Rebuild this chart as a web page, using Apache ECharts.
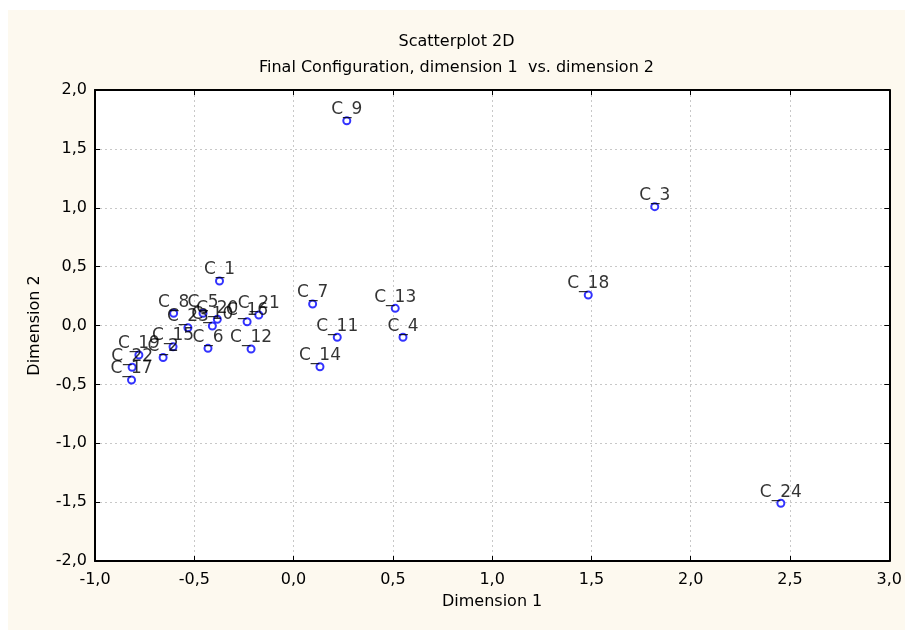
<!DOCTYPE html>
<html>
<head>
<meta charset="utf-8">
<script src="https://cdn.jsdelivr.net/npm/echarts@6/dist/echarts.min.js"></script>
<style>
  html, body { margin: 0; padding: 0; background: #ffffff; }
  #chart { position: absolute; left: 8px; top: 10px; width: 897px; height: 620px; background: #fdf9ef; }
</style>
</head>
<body>
<div id="chart"></div>
<script>
// case labels and their coordinates
var caseNames = ['C_1', 'C_2', 'C_3', 'C_4', 'C_5', 'C_6', 'C_7', 'C_8', 'C_9', 'C_10', 'C_11', 'C_12',
  'C_13', 'C_14', 'C_15', 'C_16', 'C_17', 'C_18', 'C_19', 'C_20', 'C_21', 'C_22', 'C_23', 'C_24']
var dim1 = [-0.373, -0.657, 1.819, 0.551, -0.456, -0.431, 0.096, -0.604, 0.268, -0.409, 0.220, -0.214,
  0.512, 0.133, -0.607, -0.234, -0.816, 1.484, -0.779, -0.384, -0.175, -0.813, -0.532, 2.454]
var dim2 = [0.378, -0.272, 1.009, -0.100, 0.104, -0.194, 0.183, 0.104, 1.739, -0.004, -0.100, -0.200,
  0.146, -0.350, -0.180, 0.032, -0.463, 0.259, -0.251, 0.053, 0.089, -0.355, -0.019, -1.510]

// axis ranges
var xRange = [-1.0, 3.0]
var yRange = [-2.0, 2.0]
var tickStep = 0.5

var fontFamily = '"DejaVu Sans", sans-serif'
var commaFmt = function (v) { return v.toFixed(1).replace('.', ',') }

var points = caseNames.map(function (n, i) {
  return { name: n, value: [dim1[i], dim2[i]] }
})

var frameLine = { show: true, onZero: false, lineStyle: { color: '#000', width: 2 } }
var gridLine = { show: true, lineStyle: { color: '#c8c8c8', type: [2, 3], width: 1 } }
var innerTick = { show: true, inside: true, length: 5, lineStyle: { color: '#000', width: 1 } }

var chart = echarts.init(document.getElementById('chart'))
var option = {
  textStyle: { fontFamily: fontFamily },
  title: {
    text: 'Scatterplot 2D',
    subtext: 'Final Configuration, dimension 1  vs. dimension 2',
    left: 'center',
    top: 19,
    itemGap: 10,
    textStyle: { fontSize: 16, fontWeight: 'normal', color: '#000', fontFamily: fontFamily },
    subtextStyle: { fontSize: 16, color: '#000', fontFamily: fontFamily }
  },
  grid: {
    left: 87, right: 13, top: 80, bottom: 69,
    show: true, backgroundColor: '#ffffff', borderWidth: 0
  },
  xAxis: [
    {
      type: 'value', min: xRange[0], max: xRange[1], interval: tickStep,
      name: 'Dimension 1', nameLocation: 'middle', nameGap: 33,
      nameTextStyle: { fontSize: 16, color: '#000' },
      axisLine: frameLine,
      axisTick: innerTick,
      axisLabel: { fontSize: 16, color: '#000', margin: 11, formatter: commaFmt },
      splitLine: gridLine
    },
    {
      type: 'value', position: 'top', min: xRange[0], max: xRange[1], interval: tickStep,
      axisLine: frameLine, axisTick: innerTick, axisLabel: { show: false }, splitLine: { show: false }
    }
  ],
  yAxis: [
    {
      type: 'value', min: yRange[0], max: yRange[1], interval: tickStep,
      name: 'Dimension 2', nameLocation: 'middle', nameGap: 52,
      nameTextStyle: { fontSize: 16, color: '#000' },
      axisLine: frameLine,
      axisTick: innerTick,
      axisLabel: { fontSize: 16, color: '#000', margin: 8, formatter: commaFmt },
      splitLine: gridLine
    },
    {
      type: 'value', position: 'right', min: yRange[0], max: yRange[1], interval: tickStep,
      axisLine: frameLine, axisTick: innerTick, axisLabel: { show: false }, splitLine: { show: false }
    }
  ],
  series: [
    {
      type: 'scatter',
      symbol: 'emptyCircle',
      symbolSize: 7,
      itemStyle: { color: '#0000ff', borderColor: '#1a1aff', borderWidth: 1 },
      label: {
        show: true,
        position: 'top',
        distance: -2,
        formatter: '{b}',
        fontSize: 17,
        color: '#000',
        fontFamily: fontFamily
      },
      data: points
    }
  ]
}
chart.setOption(option)
</script>
</body>
</html>
